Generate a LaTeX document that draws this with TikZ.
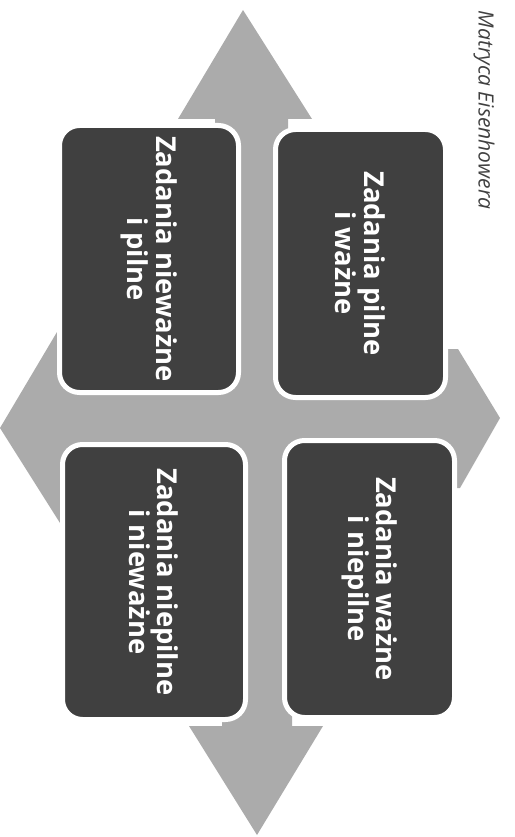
\documentclass[tikz,border=0pt]{standalone}
\usepackage{fontspec}
\setmainfont{Open Sans}
\definecolor{arrowgray}{gray}{0.67}
\definecolor{boxdark}{gray}{0.25}
\tikzset{
  quadbox/.style={draw=white,line width=5pt,fill=boxdark,rounded corners=20pt,rotate=-90,align=center,text=white,inner sep=0pt,font=\bfseries\fontsize{27.4}{28.5}\selectfont},
  crossarrow/.style={fill=arrowgray},
  titletext/.style={rotate=-90,font=\itshape\fontsize{21}{24}\selectfont,text=black!75}
}

\begin{document}
\begin{tikzpicture}[x=1pt,y=1pt]
  \useasboundingbox (0,0) rectangle (514,-837);

  % --- Krzyz strzalek w tle ---
  \fill[crossarrow] (243,-10) -- (312,-119) -- (288,-119) -- (288,-349) -- (458,-349)
    -- (500,-418) -- (460,-488) -- (292,-488) -- (292,-726) -- (323,-726) -- (257,-835)
    -- (189,-726) -- (222,-726) -- (222,-523) -- (60,-523) -- (0,-428) -- (57,-332)
    -- (215,-332) -- (215,-119) -- (178,-119) -- cycle;

  % --- Cztery pola matrycy ---
  \node[quadbox,minimum width=267pt,minimum height=179pt] (niewaznePilne) at (149,-259) {Zadania nieważne\\i pilne};
  \node[quadbox,minimum width=268pt,minimum height=170pt] (pilneWazne) at (360.5,-263.5) {Zadania pilne\\i ważne};
  \node[quadbox,minimum width=275pt,minimum height=183pt] (niepilneNiewazne) at (154,-582) {Zadania niepilne\\i nieważne};
  \node[quadbox,minimum width=277pt,minimum height=170pt] (wazneNiepilne) at (369.5,-579) {Zadania ważne\\i niepilne};

  % --- Tytul ---
  \node[titletext] (tytul) at (484,-110) {Matryca Eisenhowera};

\end{tikzpicture}
\end{document}
